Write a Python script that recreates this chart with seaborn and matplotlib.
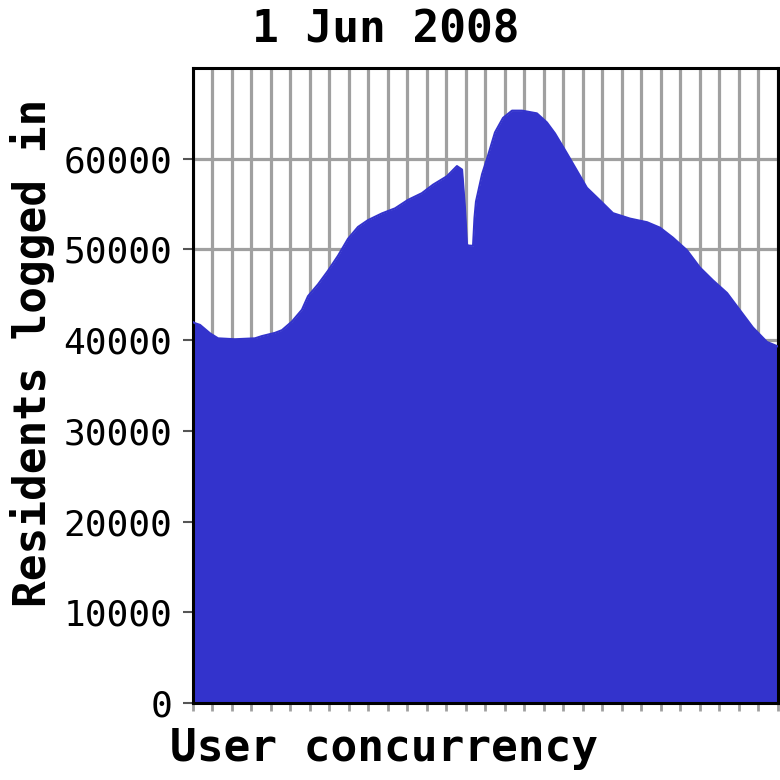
import numpy as np
import pandas as pd
import seaborn as sns
import matplotlib
matplotlib.use("Agg")
import matplotlib.pyplot as plt

hours = [0.00, 0.08, 0.29, 0.70, 1.03, 1.72, 2.54, 2.83, 3.36, 3.65, 4.06,
         4.47, 4.72, 5.13, 5.54, 5.95, 6.36, 6.77, 7.18, 7.75, 8.29, 8.82,
         9.39, 9.85, 10.42, 10.83, 11.04, 11.16, 11.24, 11.28, 11.49, 11.55,
         11.61, 11.86, 12.10, 12.39, 12.72, 13.09, 13.50, 14.11, 14.52, 14.85,
         15.34, 15.75, 16.16, 16.70, 17.23, 17.93, 18.63, 19.16, 19.69, 20.27,
         20.80, 21.33, 21.91, 22.44, 22.97, 23.55, 24.00]
residents = [42000, 41870, 41680, 40750, 40200, 40100, 40200, 40450, 40800,
             41100, 42050, 43350, 44850, 46150, 47650, 49300, 51170, 52480,
             53230, 53970, 54530, 55460, 56200, 57140, 58070, 59190, 58800,
             54520, 50600, 50430, 50400, 53500, 55270, 58290, 60300, 62900,
             64500, 65300, 65300, 65000, 64000, 62800, 60600, 58700, 56800,
             55400, 54000, 53400, 53000, 52400, 51300, 49900, 48000, 46600,
             45200, 43300, 41400, 39800, 39300]
y_ticks = [0, 10000, 20000, 30000, 40000, 50000, 60000]

df = pd.DataFrame({"hour": hours, "residents": residents})

sns.set_theme(style="white")
plt.rcParams["font.family"] = ["DejaVu Sans Mono", "DejaVu Sans"]
plt.rcParams["text.color"] = "black"
plt.rcParams["ytick.color"] = "black"

fig = plt.figure(figsize=(7.8, 7.8), dpi=100)
ax = fig.add_axes([0.2474, 0.0987, 0.75, 0.8141])

blue = "#3333cc"
ax.fill_between(df["hour"], df["residents"], 0, color=blue, lw=0, zorder=2)
sns.lineplot(data=df, x="hour", y="residents", color=blue, lw=1.5, ax=ax, zorder=3)

ax.set_xlim(0, 24)
ax.set_ylim(0, 70000)
ax.set_xticks(np.arange(0, 24.01, 0.8))
ax.set_xticklabels([])
ax.set_yticks(y_ticks)
ax.set_yticklabels([str(v) for v in y_ticks], fontsize=26, color="black")

ax.grid(True, color="#a0a0a0", lw=2.3, zorder=1)
ax.set_axisbelow(True)
ax.tick_params(axis="x", direction="out", length=6, width=2, color="#a0a0a0", bottom=True)
ax.tick_params(axis="y", direction="out", length=7, width=1.5, color="#555555",
               labelcolor="black", left=True, pad=8)
for s in ax.spines.values():
    s.set_color("black")
    s.set_linewidth(2.2)
ax.set_xlabel("")
ax.set_ylabel("")

fig.text(0.495, 0.962, "1 Jun 2008", ha="center", va="center", fontsize=32,
         fontweight="bold", color="black")
fig.text(0.042, 0.547, "Residents logged in", ha="center", va="center", rotation=90,
         fontsize=32, fontweight="bold", color="black")
fig.text(0.218, 0.041, "User concurrency", ha="left", va="center", fontsize=32,
         fontweight="bold", color="black")

fig.savefig("out.png", dpi=100)
